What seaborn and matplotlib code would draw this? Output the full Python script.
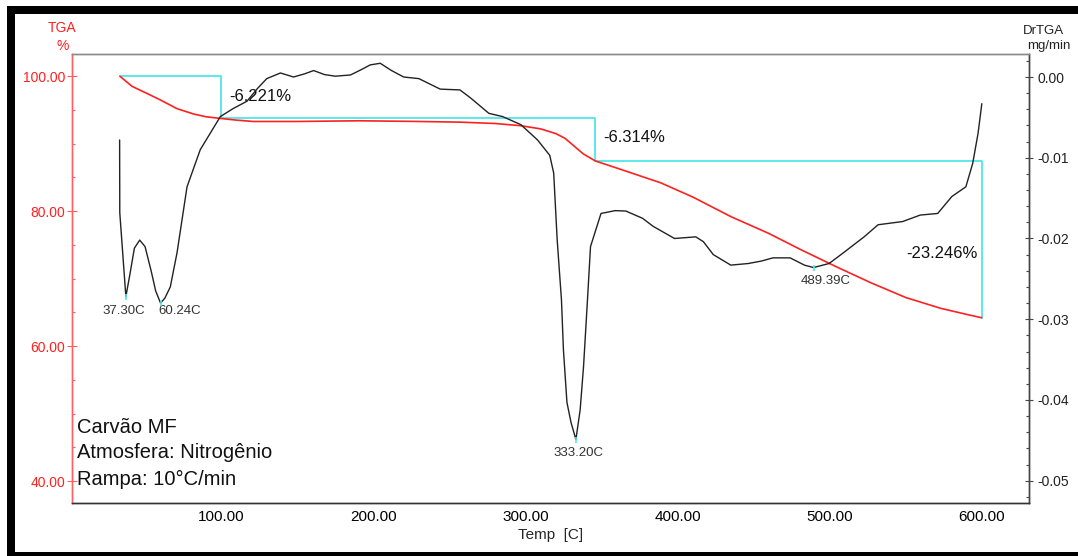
import matplotlib
matplotlib.use("Agg")
import matplotlib.pyplot as plt
from matplotlib.patches import Rectangle
from matplotlib.ticker import MultipleLocator, FormatStrFormatter, FuncFormatter
import seaborn as sns

# ---------------- data ----------------
tga_temp = [33.5, 41.5, 49, 60, 71, 82, 90, 99.5, 110, 121, 150, 191, 230, 257,
            280, 297, 310, 320, 326, 331, 338, 346, 360, 389, 410, 435, 460, 481,
            504, 527, 550, 573, 590, 600]
tga_val = [100, 98.5, 97.7, 96.5, 95.2, 94.4, 94.0, 93.75, 93.5, 93.3, 93.3, 93.4,
           93.3, 93.2, 93.0, 92.67, 92.2, 91.5, 90.8, 89.85, 88.5, 87.44, 86.4,
           84.2, 82.1, 79.2, 76.7, 74.3, 71.8, 69.4, 67.2, 65.6, 64.7, 64.2]

dr_temp = [33.3, 33.4, 37.4, 40, 43, 46.5, 50, 54, 57, 60.2, 63, 66.6, 71, 77.6,
           86.3, 99.5, 108, 117, 124, 130, 139, 147.6, 155, 160.8, 168, 175, 185,
           192, 198, 204.6, 212, 220, 230, 244, 257, 264, 276, 285, 297, 308, 316,
           318.6, 320.9, 323.7, 325, 327.3, 330, 333.2, 336, 338.2, 340.8, 342.8,
           349.7, 359, 366, 377, 384, 398, 412, 417, 423.5, 435, 446.5, 455, 462.7,
           474, 483.4, 489.4, 499.6, 508.8, 522.6, 531.8, 548, 559.5, 571, 580.3,
           589.5, 594, 597.5, 600]
dr_val = [-0.0078, -0.0168, -0.0272, -0.0245, -0.0212, -0.0202, -0.0210, -0.0240,
          -0.0265, -0.0280, -0.0274, -0.0260, -0.0218, -0.0136, -0.0090, -0.0049,
          -0.0039, -0.0030, -0.0014, -0.0002, 0.0005, 0.0000, 0.0004, 0.0008,
          0.0003, 0.0001, 0.00025, 0.0009, 0.0015, 0.0017, 0.0008, 0.0000, -0.0002,
          -0.0015, -0.0016, -0.0026, -0.0045, -0.0049, -0.0059, -0.0078, -0.0097,
          -0.0119, -0.0202, -0.0276, -0.0338, -0.0403, -0.0428, -0.0449, -0.0412,
          -0.0359, -0.0276, -0.0210, -0.0169, -0.01655, -0.0166, -0.0175, -0.0185,
          -0.0200, -0.0198, -0.0204, -0.0220, -0.0233, -0.0231, -0.0228, -0.0224,
          -0.0224, -0.0233, -0.0236, -0.0231, -0.0218, -0.0198, -0.0183, -0.0179,
          -0.0171, -0.0169, -0.0148, -0.0136, -0.0107, -0.0070, -0.0033]

step_temp = [33.5, 100, 100, 346, 346, 600, 600]
step_val = [100, 100, 93.78, 93.78, 87.47, 87.47, 64.22]

peak_temp = [37.30, 60.24, 333.20, 489.39]
peak_val = [-0.0272, -0.0280, -0.0449, -0.0236]
peak_labels = ["37.30C", "60.24C", "333.20C", "489.39C"]

loss_labels = ["-6.221%", "-6.314%", "-23.246%"]
loss_temp = [105.4, 351, 597]
loss_val = [96.96, 90.9, 73.7]

info_lines = ["Carvão MF", "Atmosfera: Nitrogênio", "Rampa: 10°C/min"]

# ---------------- style ----------------
sns.set_style("white")
plt.rcParams['font.family'] = ['Liberation Sans', 'DejaVu Sans']

RED = '#ff2020'
CYAN = '#50e6e6'
BLACK = '#222222'

W, H = 1078, 556
fig = plt.figure(figsize=(W / 100, H / 100), dpi=100)
fig.patch.set_facecolor('white')

ax = fig.add_axes([71.7 / W, 1 - 503.3 / H, (1029 - 71.7) / W, (503.3 - 54) / H])
ax2 = ax.twinx()

sns.lineplot(x=step_temp, y=step_val, ax=ax, color=CYAN, lw=1.3, sort=False,
             estimator=None)
sns.lineplot(x=tga_temp, y=tga_val, ax=ax, color=RED, lw=1.2, sort=False,
             estimator=None)
sns.lineplot(x=dr_temp, y=dr_val, ax=ax2, color=BLACK, lw=1.0, sort=False,
             estimator=None)
sns.scatterplot(x=peak_temp, y=peak_val, ax=ax2, color=CYAN, marker='|', s=20,
                linewidth=1.2, zorder=5)

ax.set_xlim(1.8, 631)
ax.set_ylim(36.7, 103.3)
ax2.set_ylim(-0.0528, 0.00285)


def fmt2(v, pos):
    if abs(v) < 1e-9:
        v = 0.0
    return "%.2f" % v


# ticks
ax.xaxis.set_major_locator(MultipleLocator(100))
ax.xaxis.set_minor_locator(MultipleLocator(20))
ax.xaxis.set_major_formatter(FormatStrFormatter('%.2f'))
ax.yaxis.set_major_locator(MultipleLocator(20))
ax.yaxis.set_minor_locator(MultipleLocator(5))
ax.yaxis.set_major_formatter(FormatStrFormatter('%.2f'))
ax2.yaxis.set_major_locator(MultipleLocator(0.01))
ax2.yaxis.set_minor_locator(MultipleLocator(0.002))
ax2.yaxis.set_major_formatter(FuncFormatter(fmt2))

ax.tick_params(axis='x', which='major', direction='in', length=4, width=0.8,
               colors='#333333', labelsize=11, pad=5, labelcolor='black')
ax.tick_params(axis='x', which='minor', direction='in', length=2.2, width=0.8,
               colors='#333333')
ax.tick_params(axis='y', which='major', direction='inout', length=7, width=0.8,
               colors='#ff6060', labelsize=10, pad=1, labelcolor=RED)
ax.tick_params(axis='y', which='minor', direction='in', length=2.5, width=0.8,
               colors='#ff6060')
ax2.tick_params(axis='y', which='major', direction='inout', length=6, width=0.8,
                colors='#444444', labelsize=10, pad=3, labelcolor='#222222')
ax2.tick_params(axis='y', which='minor', direction='in', length=2.5, width=0.8,
                colors='#444444')

for a in (ax, ax2):
    a.spines['top'].set_color('#8a8a8a')
    a.spines['bottom'].set_color('#333333')
    a.spines['left'].set_color('#ff6060')
    a.spines['right'].set_color('#444444')
    for s in a.spines.values():
        s.set_linewidth(1.0)
    a.grid(False)
ax.set_facecolor('white')

ax.set_xlabel("Temp  [C]", fontsize=11, labelpad=3)
ax.set_ylabel("")
ax2.set_ylabel("")

# peak labels
offsets = [(-1.5, -10), (14, -6), (1.5, -9.5), (9, -9.5)]
for t, v, lab, off in zip(peak_temp, peak_val, peak_labels, offsets):
    ax2.annotate(lab, (t, v), xytext=off, textcoords='offset points',
                 ha='center', va='center', fontsize=9.5, color='#333333')

# loss labels
ax.text(loss_temp[0], loss_val[0], loss_labels[0], ha='left', va='center',
        fontsize=12, color='#111111')
ax.text(loss_temp[1], loss_val[1], loss_labels[1], ha='left', va='center',
        fontsize=12, color='#111111')
ax.text(loss_temp[2], loss_val[2], loss_labels[2], ha='right', va='center',
        fontsize=12, color='#111111')

# info text block
for yy, line in zip([0.1676, 0.112, 0.054], info_lines):
    ax.text(0.006, yy, line, transform=ax.transAxes, ha='left', va='center',
            fontsize=14.5, color='#111111')

# axis headers
fig.text(62 / W, 1 - 27.7 / H, "TGA", ha='center', va='center', fontsize=10,
         color=RED)
fig.text(63 / W, 1 - 46 / H, "%", ha='center', va='center', fontsize=10,
         color=RED)
fig.text(1043 / W, 1 - 31.5 / H, "DrTGA", ha='center', va='center',
         fontsize=9.5, color='#222222')
fig.text(1049 / W, 1 - 45.5 / H, "mg/min", ha='center', va='center',
         fontsize=9.5, color='#222222')

# black picture frame
fig.add_artist(Rectangle((7 / W, 0), 8 / W, 1 - 6 / H, transform=fig.transFigure,
                         color='black', lw=0))
fig.add_artist(Rectangle((7 / W, 1 - 14 / H), 1, 8 / H, transform=fig.transFigure,
                         color='black', lw=0))
fig.add_artist(Rectangle((7 / W, 0), 1, 4 / H, transform=fig.transFigure,
                         color='black', lw=0))

fig.savefig("out.png", dpi=100, facecolor='white')
